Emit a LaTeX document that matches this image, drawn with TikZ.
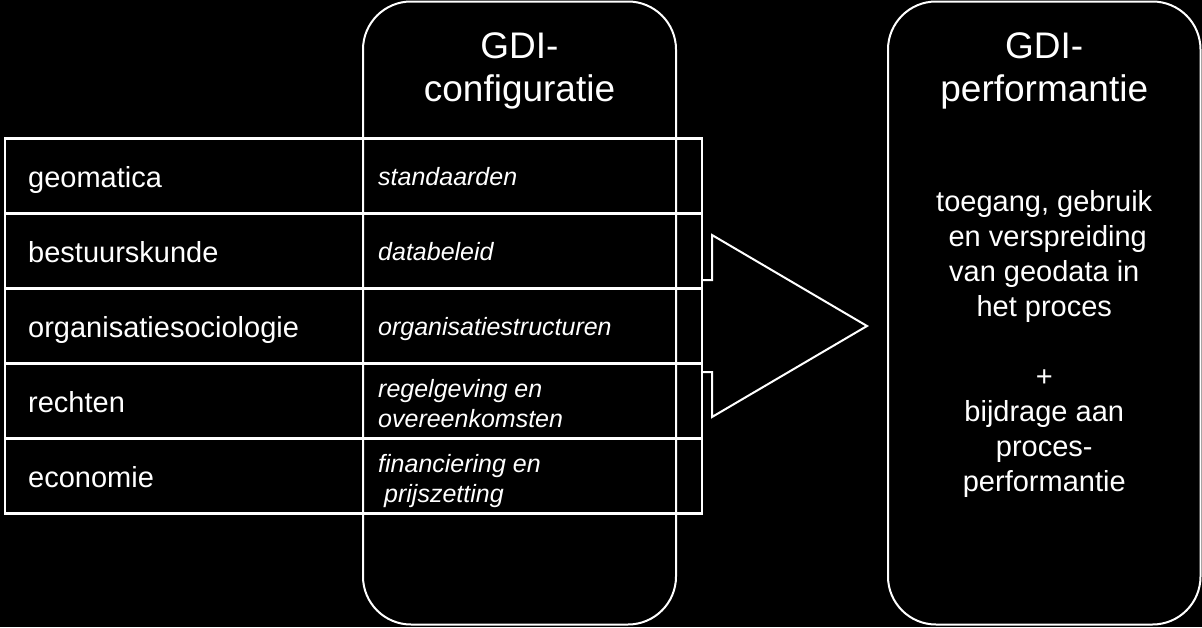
\documentclass[tikz,border=0pt]{standalone}
\usepackage{fontspec}
\setmainfont{Liberation Sans}
\usetikzlibrary{positioning,calc}

\begin{document}
\begin{tikzpicture}[x=1pt, y=-1pt,
  panel/.style={draw=white, line width=2pt, rounded corners=48pt, minimum width=313pt,
                minimum height=623pt, inner sep=0pt, outer sep=0pt},
  cell/.style={draw=white, line width=2.6pt, minimum height=75pt, inner sep=0pt, outer sep=0pt},
  head/.style={text=white, align=center, inner sep=0pt, font=\fontsize{37}{43.4}\selectfont},
  body/.style={text=white, align=center, inner sep=0pt, font=\fontsize{29}{35}\selectfont},
  dsctext/.style={text=white, inner sep=0pt, font=\fontsize{29}{35}\selectfont},
  asptext/.style={text=white, align=left, inner sep=0pt, font=\fontsize{25}{29.7}\selectfont\itshape},
  blk/.style={draw=white, line width=2pt, line join=miter}
]
  % background and page size
  \fill[black] (0,0) rectangle (1202,627);
  \useasboundingbox (0,0) rectangle (1202,627);

  % the two columns
  \node[panel, anchor=north west] (conf) at (363,1.5) {};
  \node[panel, anchor=north west, minimum width=312.5pt] (perf) at (888,1.5) {};
  % (base = last line of a multi-line node)
  \node[head, anchor=base] (conft) at ($(conf.north)+(0,100.2)$) {GDI-\\configuratie};
  \node[head, anchor=base] (perft) at ($(perf.north)+(0,100.2)$) {GDI-\\performantie};
  \node[body, anchor=base] (perfb) at ($(perf.north)+(0,490.2)$)
    {toegang, gebruik\\\hspace*{7pt}en verspreiding\\van geodata in\hspace*{7pt}\\het proces\\[35pt]+\\bijdrage aan\\proces-\\performantie};

  % table: discipline | aspect
  \foreach \dsc/\asp/\off [count=\i] in {geomatica/standaarden/9, bestuurskunde/databeleid/9,
      organisatiesociologie/organisatiestructuren/9,
      rechten/{regelgeving en\\overeenkomsten}/26.5,
      economie/{financiering en\\\hspace*{6pt}prijszetting}/26}{
    \node[cell, minimum width=358pt, anchor=north west] (dis\i) at (5,{138.5+75*(\i-1)}) {};
    \node[cell, minimum width=339pt, right=0pt of dis\i] (asp\i) {};
    \node[dsctext, anchor=base west] (dlab\i) at ($(dis\i.west)+(23,11)$) {\dsc};
    \node[asptext, anchor=base west] (alab\i) at ($(asp\i.west)+(15,\off)$) {\asp};
  }

  % block arrow
  \draw[blk] ($(asp3.east)+(0,-46)$) -- ++(10,0) -- ++(0,-45) -- ++(155,91)
    -- ++(-155,91) -- ++(0,-45) -- ++(-10,0);
\end{tikzpicture}
\end{document}
